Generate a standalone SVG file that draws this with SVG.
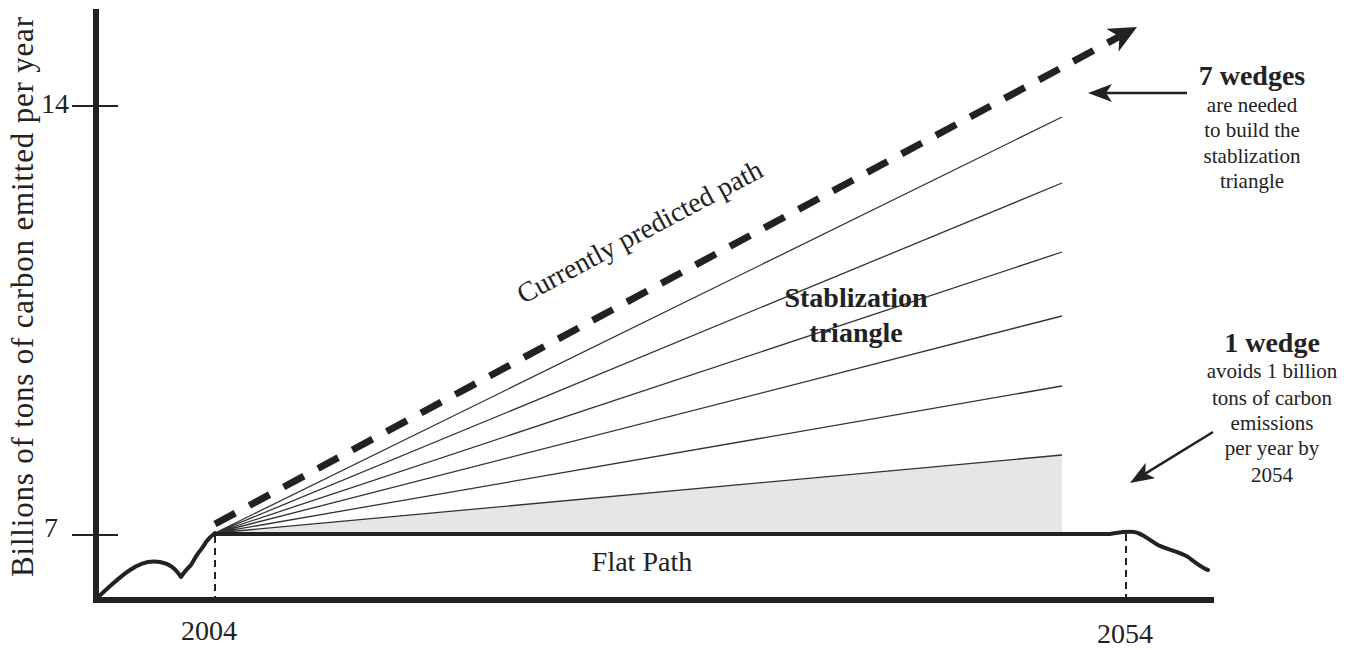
<svg xmlns="http://www.w3.org/2000/svg" width="1349" height="650" viewBox="0 0 1349 650">
<style>
text{font-family:"Liberation Serif","Times New Roman",serif;fill:#222}
.axis{stroke:#222;stroke-width:6;fill:none;stroke-linecap:square}
.tick{stroke:#222;stroke-width:2;fill:none}
.curve{stroke:#222;stroke-width:4;fill:none;stroke-linejoin:round;stroke-linecap:round}
.fan{stroke:#333;stroke-width:1.3;fill:none}
.vdash{stroke:#222;stroke-width:2;stroke-dasharray:7 5;fill:none}
.pred{stroke:#222;stroke-width:7;stroke-dasharray:23 16;fill:none}
.call{stroke:#222;stroke-width:2.5;fill:none}
.lbl{font-size:28px}
.side{font-size:21px;text-anchor:middle}
.bold{font-weight:bold}
</style>
<defs>
<marker id="bigHead" viewBox="0 0 28 26" markerWidth="28" markerHeight="26" refX="8" refY="13" orient="auto" markerUnits="userSpaceOnUse">
<path d="M0,0 L28,13 L0,26 L8,13 z" fill="#222"/>
</marker>
<marker id="smallHead" viewBox="0 0 24 18" markerWidth="24" markerHeight="18" refX="6" refY="9" orient="auto" markerUnits="userSpaceOnUse">
<path d="M0,0 L24,9 L0,18 L6,9 z" fill="#222"/>
</marker>
</defs>
<rect width="1349" height="650" fill="#fff"/>

<g id="wedge-fill">
<polygon points="215,534 1062,455 1062,534" fill="#e6e6e6"/>
</g>

<g id="axes">
<line class="axis" x1="96" y1="12" x2="96" y2="600"/>
<line class="axis" x1="96" y1="600" x2="1211" y2="600"/>
<line class="tick" x1="72" y1="106" x2="118" y2="106"/>
<line class="tick" x1="72" y1="535" x2="118" y2="535"/>
<text class="lbl" x="55" y="113" text-anchor="middle" font-size="27">14</text>
<text class="lbl" x="51" y="537" text-anchor="middle" font-size="27">7</text>
<text x="0" y="0" font-size="31" text-anchor="middle" textLength="560" lengthAdjust="spacing" transform="translate(33,297) rotate(-90)">Billions of tons of carbon emitted per year</text>
<text class="lbl" x="209" y="640" text-anchor="middle">2004</text>
<text class="lbl" x="1125" y="643" text-anchor="middle">2054</text>
</g>

<g id="connectors">
<path class="fan" d="M215,533 L1062,117 M215,533 L1062,183 M215,533 L1062,252 M215,533 L1062,316 M215,533 L1062,386 M215,533 L1062,455"/>
<line class="vdash" x1="215" y1="536" x2="215" y2="598"/>
<line class="vdash" x1="1126" y1="534" x2="1126" y2="598"/>
<line class="pred" x1="215" y1="524" x2="1119.4" y2="36.5" marker-end="url(#bigHead)"/>
<line class="call" x1="1187" y1="93" x2="1106" y2="93" marker-end="url(#smallHead)"/>
<line class="call" x1="1213" y1="432" x2="1145.3" y2="473.6" marker-end="url(#smallHead)"/>
</g>

<g id="history">
<path class="curve" d="M97,598 C108,588 118,578 130,570 C140,563 150,560 160,562 C170,564 175,568 181,577 C184,572 188,568 191,565 C194,560 196,556 199,552 C202,548 204,546 206,542 C209,538 211,536 215,533"/>
</g>

<g id="flat-path">
<path class="curve" d="M215,534 L1110,534 C1118,533 1124,531 1134,532 C1142,533 1146,538 1158,545 C1168,550 1178,551 1188,557 C1196,563 1202,568 1208,570"/>
<text class="lbl" x="642" y="571" text-anchor="middle">Flat Path</text>
</g>

<g id="predicted-label">
<text class="lbl" x="0" y="0" text-anchor="middle" transform="translate(644,240) rotate(-28)">Currently predicted path</text>
</g>

<g id="stabilization-triangle">
<text class="lbl bold" x="856" y="307" text-anchor="middle">Stablization</text>
<text class="lbl bold" x="856" y="342" text-anchor="middle">triangle</text>
</g>

<g id="seven-wedges">
<text class="bold" x="1252" y="85" font-size="28" text-anchor="middle">7 wedges</text>
<text class="side" x="1252" y="112">are needed</text>
<text class="side" x="1252" y="137">to build the</text>
<text class="side" x="1252" y="163">stablization</text>
<text class="side" x="1252" y="188">triangle</text>
</g>

<g id="one-wedge">
<text class="bold" x="1272" y="352" font-size="28" text-anchor="middle">1 wedge</text>
<text class="side" x="1272" y="378">avoids 1 billion</text>
<text class="side" x="1272" y="405">tons of carbon</text>
<text class="side" x="1272" y="430">emissions</text>
<text class="side" x="1272" y="455">per year by</text>
<text class="side" x="1272" y="482">2054</text>
</g>
</svg>
